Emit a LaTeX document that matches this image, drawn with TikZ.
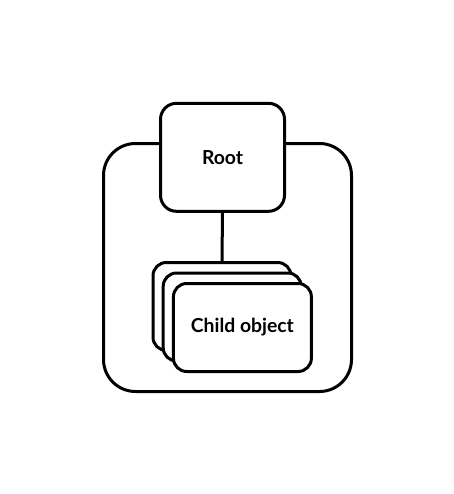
\documentclass[tikz,border=0pt]{standalone}
\usepackage{fontspec}
\setmainfont{Lato}
\usepackage{tikz}
\usetikzlibrary{positioning, calc}

\begin{document}
\begin{tikzpicture}[x=0.75pt, y=-0.75pt,
    box/.style={draw, line width=2.25pt, fill=white, rounded corners=12pt},
    card/.style={box, rounded corners=10pt, minimum width=103.5pt, minimum height=66pt},
    lbl/.style={font=\bfseries\fontsize{14.5}{16}\selectfont}]
    \useasboundingbox (0, 0) rectangle (454, 494);

    \node[box, rounded corners=24pt, minimum width=186pt, minimum height=186pt] (frame) at (227.5, 267.5) {};
    \node[box, lbl, minimum width=93pt, minimum height=81pt] (root) at (222.5, 157.3) {Root};

    \node[card] (c3) at (222, 306.5) {};
    \node[card] (c2) at (232.2, 317) {};
    \node[card, lbl] (c1) at (242.4, 327.5) {Child object};

    \draw[line width=2.25pt]
        (root.south) -- (c3.north)
        ;
\end{tikzpicture}
\end{document}
